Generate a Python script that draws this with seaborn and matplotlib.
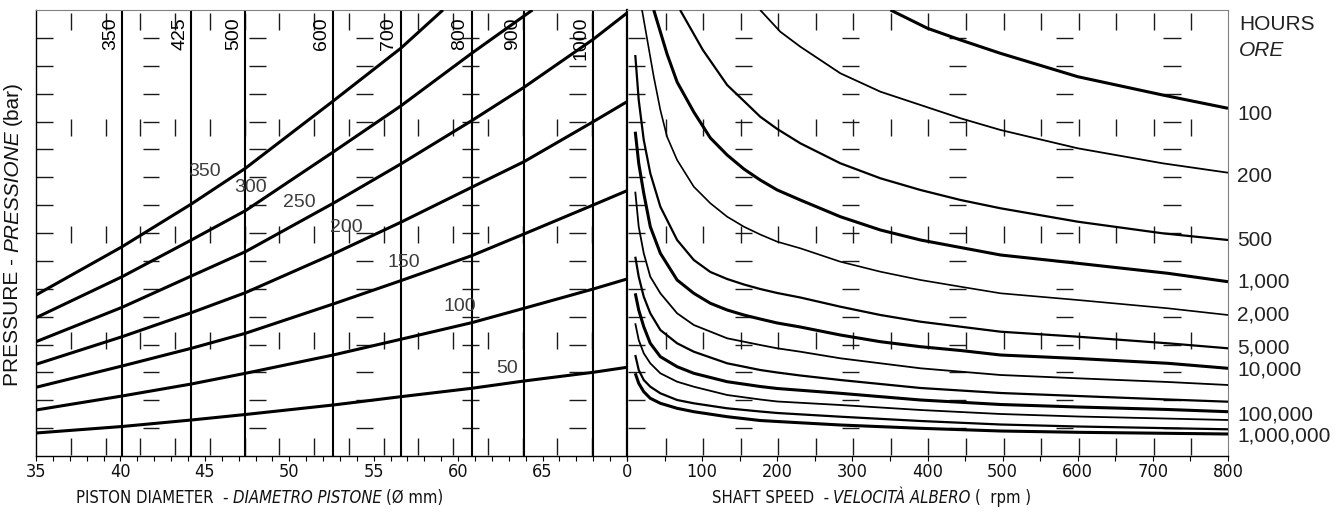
import os
import numpy as np
import matplotlib
matplotlib.use("Agg")
import matplotlib.pyplot as plt
from matplotlib import font_manager as fm
import seaborn as sns

# ---------------- LEFT PANEL DATA ----------------
# x: piston diameter (mm); y: relative pressure height (no numeric pressure scale on chart)
diameter_mm = [35.0, 40.1, 44.2, 47.4, 52.6, 56.6, 60.8, 63.9, 68.0, 70.0]
pressure_50 = [23.0, 29.5, 36.0, 41.5, 51.0, 59.3, 67.7, 75.0, 83.7, 88.7]
pressure_100 = [46.0, 60.0, 72.0, 82.7, 101.0, 116.7, 133.3, 147.7, 167.0, 177.0]
pressure_150 = [68.7, 90.0, 107.7, 122.7, 152.0, 175.3, 200.3, 222.0, 251.0, 265.3]
pressure_200 = [91.7, 119.3, 143.3, 163.3, 202.0, 233.7, 268.7, 294.3, 334.3, 354.3]
pressure_250 = [114.3, 148.7, 180.0, 204.3, 252.7, 292.0, 335.3, 368.7, 416.7, 443.0]
diameter_300_mm = [35.0, 40.1, 44.2, 47.4, 52.6, 56.6, 60.8, 63.9, 64.4]
pressure_300 = [138.3, 179.3, 216.0, 245.3, 304.0, 350.0, 402.7, 440.0, 446.0]
diameter_350_mm = [35.0, 40.1, 44.2, 47.4, 52.6, 56.6, 59.1]
pressure_350 = [161.0, 209.3, 252.0, 287.7, 355.0, 407.7, 446.0]

curve_names = ["50", "100", "150", "200", "250", "300", "350"]
curve_label_mm = [62.9, 60.1, 56.8, 53.4, 50.6, 47.7, 45.0]
curve_label_h = [87.7, 149.3, 193.3, 228.0, 253.3, 268.0, 284.0]

ref_lines_mm = [40.1, 44.2, 47.4, 52.6, 56.6, 60.8, 63.9, 68.0]
ref_line_labels = ["350", "425", "500", "600", "700", "800", "900", "1000"]

diam_ticks = [35, 40, 45, 50, 55, 60, 65]

# ---------------- RIGHT PANEL DATA ----------------
# x: shaft speed (rpm); y: same relative pressure height; one curve per life (hours)
rpm_100h = [350.7, 400, 444, 497, 600, 713, 800]
h_100h = [446, 427.7, 416, 402.7, 379.3, 361, 347.7]
rpm_200h = [177.3, 204, 230.7, 284, 337.3, 390.7, 444, 497.3, 600, 713, 800]
h_200h = [446, 424.3, 409.3, 382.7, 364.3, 351, 337.7, 326, 307.7, 292.7, 283.3]
rpm_500h = [70.7, 101, 133.3, 155.6, 177.3, 200, 230.7, 284, 337.3, 390.7, 444, 497.3, 600, 713, 800]
h_500h = [446, 406, 371, 355, 339.3, 327, 312.7, 292.7, 277.7, 266, 256, 247.7, 234.3, 222.7, 216]
rpm_1kh = [35.6, 53.3, 66.7, 88.9, 111, 133.3, 155.6, 177.3, 200, 230.7, 284, 337.3, 390.7, 444, 497.3, 600, 720, 800]
h_1kh = [446, 402, 374, 344, 318, 301, 287, 276, 266, 256, 239.3, 226, 216, 208.5, 201, 192.7, 182.7, 174.3]
rpm_2kh = [20, 35.6, 44.4, 53.3, 66.7, 88.9, 111, 133.3, 155.6, 177.3, 200, 230.7, 284, 337.3, 390.7, 444, 497.3, 600, 720, 800]
h_2kh = [446, 379.3, 346, 319.3, 296, 269.3, 252.7, 239.3, 229.3, 221.5, 214.3, 207.7, 194.3, 184.3, 176, 169.3, 162.7, 156, 147.7, 141]
rpm_5kh = [11, 15.6, 22.3, 31, 44.4, 66.7, 88.9, 111, 133.3, 155.6, 177.3, 200, 230.7, 284, 337.3, 390.7, 444, 497.3, 600, 720, 800]
h_5kh = [401, 356, 316, 282.7, 249.3, 216, 196, 184, 177, 171.5, 167, 163, 158.5, 149.3, 141, 134.3, 129.3, 124.3, 119.3, 112.7, 107.7]
rpm_10kh = [11, 15.6, 22.3, 31, 44.4, 66.7, 88.9, 111, 133.3, 155.6, 177.3, 200, 230.7, 284, 337.3, 390.7, 444, 497.3, 600, 720, 800]
h_10kh = [324.3, 292.7, 262.7, 229.3, 202.7, 176, 162.7, 152.7, 146, 141, 137, 133, 129, 121, 114.3, 109.3, 105.5, 101, 97.5, 92.7, 87.7]
rpm_20kh = [11, 15.6, 22.3, 31, 44.4, 66.7, 88.9, 133.3, 177.3, 200, 230.7, 284, 337.3, 390.7, 497.3, 600, 720, 800]
h_20kh = [264.3, 229.3, 202.7, 179.3, 162.7, 142.7, 131, 117.7, 111, 107.7, 104.3, 97.7, 92.7, 87.7, 81, 77.7, 74, 71]
rpm_50kh = [11, 15.6, 22.3, 31, 44.4, 66.7, 88.9, 133.3, 177.3, 200, 230.7, 284, 390.7, 497.3, 600, 720, 800]
h_50kh = [199.3, 179.3, 159.3, 142.7, 126, 112.7, 104.3, 92.7, 86, 83.5, 80.5, 76, 68, 63, 60, 56.5, 54.3]
rpm_100kh = [11, 15.6, 22.3, 31, 44.4, 66.7, 88.9, 133.3, 177.3, 200, 284, 390.7, 497.3, 600, 720, 800]
h_100kh = [162.7, 146, 129.3, 112.7, 99.3, 89.3, 82.7, 74.3, 69.5, 67.5, 62.7, 56, 51.5, 49, 46.5, 44.3]
rpm_200kh = [11, 15.6, 22.3, 31, 44.4, 66.7, 88.9, 133.3, 177.3, 200, 284, 390.7, 497.3, 600, 800]
h_200kh = [132.7, 116, 102.7, 92.7, 82.7, 74.3, 69.3, 61, 56.5, 54.5, 51, 46, 42, 39.5, 36]
rpm_500kh = [11, 15.6, 22.3, 31, 44.4, 66.7, 88.9, 133.3, 177.3, 200, 284, 390.7, 497.3, 600, 800]
h_500kh = [101, 86, 76, 69.3, 62.7, 56, 52.7, 47.7, 44.5, 43, 39.3, 35, 31.5, 29.5, 26.7]
rpm_1mh = [11, 15.6, 22.3, 31, 44.4, 66.7, 88.9, 133.3, 177.3, 200, 284, 390.7, 497.3, 600, 800]
h_1mh = [82.7, 72.7, 64.3, 57.7, 52.7, 47.7, 44.3, 39.3, 35.5, 34.5, 31, 27.7, 25, 23.7, 22]

hours_labels = ["100", "200", "500", "1,000", "2,000", "5,000", "10,000", "100,000", "1,000,000"]
hours_label_h = [341, 280, 215.5, 173.5, 141, 107.7, 86, 41, 20]

speed_ticks = [0, 100, 200, 300, 400, 500, 600, 700, 800]

# ---------------- STYLE ----------------
sns.set_theme(style="white")
plt.rcParams["font.family"] = ["Liberation Sans", "DejaVu Sans"]

_files = {os.path.basename(f.fname): f.fname for f in fm.fontManager.ttflist}
NARROW_REG, NARROW_IT, narrow_scale = None, None, 1.0
for reg, ita in [("LiberationSansNarrow-Regular.ttf", "LiberationSansNarrow-Italic.ttf"),
                 ("NotoSans-Condensed.ttf", "NotoSans-CondensedItalic.ttf"),
                 ("DejaVuSansCondensed.ttf", "DejaVuSansCondensed-Oblique.ttf")]:
    if reg in _files:
        NARROW_REG = fm.FontProperties(fname=_files[reg])
        NARROW_IT = fm.FontProperties(fname=_files.get(ita, _files[reg]))
        break
if NARROW_REG is None:
    NARROW_REG = fm.FontProperties(family="Liberation Sans")
    NARROW_IT = fm.FontProperties(family="Liberation Sans", style="italic")
    narrow_scale = 0.82


def narrow(size, italic=False):
    fp = (NARROW_IT if italic else NARROW_REG).copy()
    fp.set_size(size * narrow_scale)
    return fp


W, H = 1344, 528
fig = plt.figure(figsize=(W / 100, H / 100), dpi=100, facecolor="white")
TOP_H = 446.0
x0, xm, x1 = 36, 627, 1228
ybot, ytop = 456, 10
axL = fig.add_axes([x0 / W, 1 - ybot / H, (xm - x0) / W, (ybot - ytop) / H])
axR = fig.add_axes([xm / W, 1 - ybot / H, (x1 - xm) / W, (ybot - ytop) / H])

MARK = "#1a1a1a"
GREY = "#808080"


def grid_pattern(ax, xmin, xmax, col_step, dash_len, mark_step):
    levels = TOP_H / 16 * np.arange(1, 16)
    for c in np.arange(xmin, xmax, col_step)[:6]:
        ax.hlines(levels, c, c + dash_len, color=MARK, lw=1.0, zorder=1)
    marks_x = np.arange(xmin + mark_step, xmax - mark_step * 0.5, mark_step)
    for r in 443 - 106.25 * np.arange(5):
        ax.vlines(marks_x, r - 17, r, color=MARK, lw=1.0, zorder=1)


# ---------------- LEFT PANEL ----------------
axL.set_xlim(35, 70)
axL.set_ylim(0, TOP_H)
grid_pattern(axL, 35.0, 70.0, 6.31, 1.0, 35 / 17)
axL.vlines(ref_lines_mm, 0, TOP_H, color="black", lw=1.5, zorder=2)
for xv, lab in zip(ref_lines_mm, ref_line_labels):
    axL.annotate(lab, xy=(xv, 439), xytext=(-8.5, 0), textcoords="offset points",
                 rotation=90, ha="center", va="top", fontsize=14, color="black", zorder=4)

left_curves = [(diameter_mm, pressure_50), (diameter_mm, pressure_100),
               (diameter_mm, pressure_150), (diameter_mm, pressure_200),
               (diameter_mm, pressure_250), (diameter_300_mm, pressure_300),
               (diameter_350_mm, pressure_350)]
for xs, ys in left_curves:
    sns.lineplot(x=xs, y=ys, ax=axL, color="black", lw=2.2, sort=False,
                 estimator=None, zorder=3, solid_capstyle="butt")
for s, xv, yv in zip(curve_names, curve_label_mm, curve_label_h):
    axL.text(xv, yv, s, ha="center", va="center", fontsize=14, color="#3c3c3c", zorder=4)

axL.set_xticks(diam_ticks)
axL.set_xticklabels([str(t) for t in diam_ticks])
axL.set_xticks(np.arange(35, 71, 1), minor=True)

# ---------------- RIGHT PANEL ----------------
axR.set_xlim(0, 800)
axR.set_ylim(0, TOP_H)
grid_pattern(axR, 1.3, 800, 142.5, 23, 50)

right_curves = [(rpm_100h, h_100h, 2.2), (rpm_200h, h_200h, 1.3), (rpm_500h, h_500h, 1.6),
                (rpm_1kh, h_1kh, 2.2), (rpm_2kh, h_2kh, 1.2), (rpm_5kh, h_5kh, 1.6),
                (rpm_10kh, h_10kh, 2.2), (rpm_20kh, h_20kh, 1.3), (rpm_50kh, h_50kh, 1.6),
                (rpm_100kh, h_100kh, 2.2), (rpm_200kh, h_200kh, 1.3), (rpm_500kh, h_500kh, 1.6),
                (rpm_1mh, h_1mh, 2.2)]
for xs, ys, lw in right_curves:
    sns.lineplot(x=xs, y=ys, ax=axR, color="black", lw=lw, sort=False,
                 estimator=None, zorder=3, solid_capstyle="butt")

tr = axR.get_yaxis_transform()
for s, yv in zip(hours_labels, hours_label_h):
    axR.annotate(s, xy=(1, yv), xycoords=tr, xytext=(6.5, 0), textcoords="offset points",
                 ha="left", va="center", fontsize=15, color="#222222")
axR.annotate("HOURS", xy=(1, 432), xycoords=tr, xytext=(8, 0), textcoords="offset points",
             ha="left", va="center", fontsize=15, color="#222222")
axR.annotate("ORE", xy=(1, 405), xycoords=tr, xytext=(8, 0), textcoords="offset points",
             ha="left", va="center", fontsize=15, color="#222222", fontstyle="italic")

axR.set_xticks(speed_ticks)
axR.set_xticklabels([str(t) for t in speed_ticks])
axR.set_xticks(np.arange(0, 801, 50), minor=True)

# ---------------- AXES STYLING ----------------
for ax in (axL, axR):
    ax.set_xlabel("")
    ax.set_ylabel("")
    ax.set_yticks([])
    ax.set_facecolor("white")
    ax.tick_params(axis="x", which="both", direction="out", length=3.8, width=0.8,
                   color="black", pad=1.5, bottom=True)
    for lbl in ax.get_xticklabels():
        lbl.set_fontproperties(narrow(13))
        lbl.set_color("#111111")
    ax.spines["bottom"].set_color("black")
    ax.spines["bottom"].set_linewidth(1.0)
    ax.spines["top"].set_color(GREY)
    ax.spines["top"].set_linewidth(0.8)

axL.spines["left"].set_color("black")
axL.spines["left"].set_linewidth(1.0)
axL.spines["right"].set_visible(False)
axR.spines["left"].set_color("black")
axR.spines["left"].set_linewidth(1.6)
axR.spines["right"].set_color(GREY)
axR.spines["right"].set_linewidth(0.8)


# ---------------- COMPOSITE AXIS TITLES (mixed upright / italic) ----------------
def chain(pieces, x_px, y_px, rotation, gap_pt, color="#111111"):
    first_s, first_fp = pieces[0]
    t = fig.text(x_px / W, 1 - y_px / H, first_s, fontproperties=first_fp,
                 ha="left", va="bottom", rotation=rotation, color=color)
    for s, fp in pieces[1:]:
        if rotation == 0:
            t = axL.annotate(s, xy=(1, 0), xycoords=t, xytext=(gap_pt, 0),
                             textcoords="offset points", ha="left", va="bottom",
                             fontproperties=fp, color=color, annotation_clip=False)
        else:
            t = axL.annotate(s, xy=(0, 1), xycoords=t, xytext=(0, gap_pt),
                             textcoords="offset points", ha="left", va="bottom",
                             rotation=rotation, fontproperties=fp, color=color,
                             annotation_clip=False)
    return t


chain([("PISTON DIAMETER  -", narrow(12)),
       ("DIAMETRO PISTONE", narrow(12, italic=True)),
       ("(Ø mm)", narrow(12))], 76, 507, 0, 3.0)
chain([("SHAFT SPEED  -", narrow(12)),
       ("VELOCITÀ ALBERO", narrow(12, italic=True)),
       ("(  rpm )", narrow(12))], 712, 507, 0, 3.0)

yl_fp = fm.FontProperties(family="Liberation Sans", size=15)
yl_fp_it = fm.FontProperties(family="Liberation Sans", size=15, style="italic")
chain([("PRESSURE -", yl_fp), ("PRESSIONE", yl_fp_it), ("(bar)", yl_fp)], 3, 386, 90, 4.0)

fig.savefig("out.png", dpi=100, facecolor="white")
